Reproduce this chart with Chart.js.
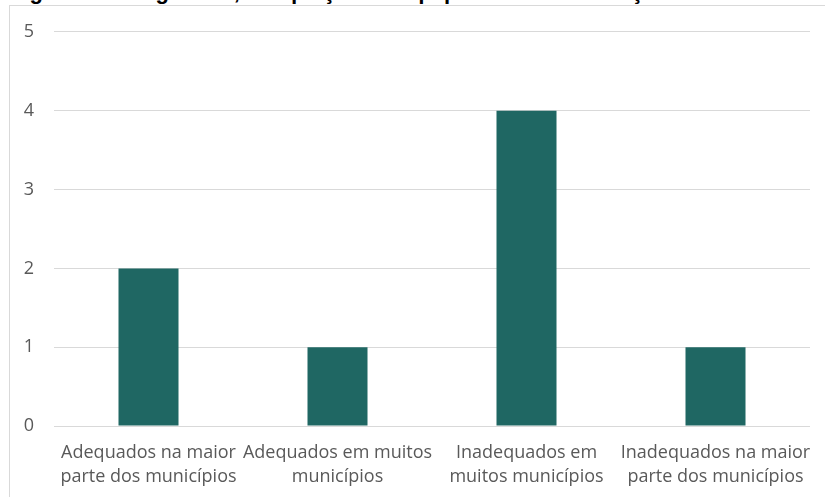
<!DOCTYPE html>
<html>
<head>
<meta charset="utf-8">
<script src="https://cdn.jsdelivr.net/npm/chart.js@4"></script>
<style>
  html, body { margin: 0; padding: 0; background: #fff; overflow: hidden; }
  #wrap { position: relative; width: 825px; height: 497px; overflow: hidden; }
  #titulo { position: absolute; left: 10px; top: -21px; white-space: nowrap;
    font: bold 22px "Liberation Sans", Arial, sans-serif; color: #000; }
  #moldura { position: absolute; left: 9px; top: 5px; width: 840px; height: 520px;
    border: 1px solid #d9d9d9; box-sizing: border-box; }
  #grafico { position: absolute; left: 0; top: 0; }
</style>
</head>
<body>
<div id="wrap">
  <div id="titulo">Figura 8 – Pergunta 7, adequação de equipamentos e condições ambientais</div>
  <div id="moldura"></div>
  <canvas id="grafico" width="825" height="497"></canvas>
</div>
<script>
// Respostas por categoria
var categorias = [
  ['Adequados na maior', 'parte dos municípios'],
  ['Adequados em muitos', 'municípios'],
  ['Inadequados em', 'muitos municípios'],
  ['Inadequados na maior', 'parte dos municípios']
];
var respostas = [2, 1, 4, 1];
var ticksY = [0, 1, 2, 3, 4, 5];

var fonte = { family: '"Open Sans", sans-serif', size: 18, lineHeight: 1.33 };

var ctx = document.getElementById('grafico').getContext('2d');
var chart = new Chart(ctx, {
  type: 'bar',
  data: {
    labels: categorias,
    datasets: [{
      data: respostas,
      backgroundColor: '#1f6763',
      barPercentage: 0.635,
      categoryPercentage: 0.5
    }]
  },
  options: {
    responsive: false,
    animation: false,
    layout: { padding: { top: 31, right: 15, left: 0, bottom: 0 } },
    plugins: { legend: { display: false }, tooltip: { enabled: false } },
    scales: {
      x: {
        grid: { display: false },
        border: { display: false },
        ticks: { color: '#595959', font: fonte, padding: 7, maxRotation: 0, autoSkip: false },
        afterFit: function (s) { s.height = 71; }
      },
      y: {
        min: 0, max: 5,
        afterBuildTicks: function (s) { s.ticks = ticksY.map(function (v) { return { value: v }; }); },
        grid: { color: '#d9d9d9', lineWidth: 1, drawTicks: false },
        border: { display: false },
        ticks: { color: '#595959', font: fonte, padding: 20 },
        afterFit: function (s) { s.width = 54; }
      }
    }
  }
});
</script>
</body>
</html>
